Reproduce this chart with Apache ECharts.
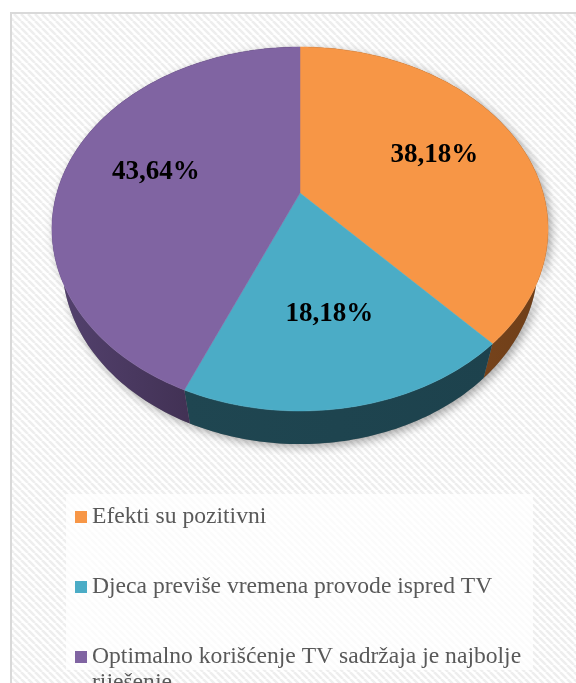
<!DOCTYPE html>
<html><head><meta charset="utf-8">
<script src="https://cdn.jsdelivr.net/npm/echarts@6/dist/echarts.min.js"></script>
<style>html,body{margin:0;padding:0;background:#fff;overflow:hidden}#c{width:576px;height:683px}</style>
</head><body><div id="c"></div>
<script>
// ---- data ----
const categories = ['Efekti su pozitivni', 'Djeca previše vremena provode ispred TV', 'Optimalno korišćenje TV sadržaja je najbolje riješenje'];
const values = [38.18, 18.18, 43.64];
const labelTexts = ['38,18%', '18,18%', '43,64%'];

// ---- style ----
const topColors = ['#f79646', '#4bacc6', '#8064a2'];
const sideColors = [['#8a5024', '#6e3e18'], ['#1f4651', '#1d424d'], ['#54426f', '#33243f']];
const LEGEND_FONT = '"Liberation Serif", serif';
const LEGEND_SIZE = 23.6;
const LEGEND_WRAP = 445;

// projection of a tilted disc (perspective)
const CX = 300, CY = 193, K = 871.7, YS = 1.02, SINA = 0.705, COSA = 0.709, DIST = 3.585, THICK = 0.21;
function proj(theta, t, d) {
  const r = theta * Math.PI / 180;
  const x = t * Math.sin(r), z = -t * Math.cos(r);
  const w = DIST - z * COSA + d * SINA;
  return [CX + K * x / w, CY + YS * K * (z * SINA + d * COSA) / w];
}
const total = values.reduce((a, b) => a + b, 0);
function startAngle(i) { let s = 0; for (let j = 0; j < i; j++) s += values[j]; return 360 * s / total; }

function renderSlice(params, api) {
  const i = params.seriesIndex;
  const v = api.value(0);
  const a0 = startAngle(i), a1 = a0 + 360 * v / total;
  const n = Math.max(2, Math.ceil(a1 - a0));
  const topArc = [], botArc = [];
  for (let k = 0; k <= n; k++) {
    const a = a0 + (a1 - a0) * k / n;
    topArc.push(proj(a, 1, 0));
    botArc.push(proj(a, 1, THICK));
  }
  const wallPts = topArc.concat(botArc.slice().reverse());
  const xs = wallPts.map(p => p[0]);
  const grad = {type: 'linear', x: Math.min(...xs), y: 0, x2: Math.max(...xs), y2: 0, global: true,
    colorStops: [{offset: 0, color: sideColors[i][0]}, {offset: 1, color: sideColors[i][1]}]};
  const c = proj(0, 0, 0);
  const mid = (a0 + a1) / 2;
  const lp = proj(mid, 0.62, 0);
  return {
    type: 'group',
    children: [
      {type: 'polygon', z2: -1, shape: {points: wallPts},
        style: {fill: '#888', shadowBlur: 10, shadowColor: 'rgba(0,0,0,0.35)', shadowOffsetX: 3, shadowOffsetY: 3}},
      {type: 'polygon', z2: 0, shape: {points: wallPts}, style: {fill: grad}},
      {type: 'polygon', z2: 10, shape: {points: [c].concat(topArc)}, style: {fill: topColors[i], stroke: topColors[i], lineWidth: 0.5}},
      {type: 'text', z2: 20, x: lp[0], y: lp[1],
        style: {text: labelTexts[i], fill: '#000', fontFamily: '"Liberation Serif", serif', fontWeight: 'bold', fontSize: 27, align: 'center', verticalAlign: 'middle'}}
    ]
  };
}

function stripePattern() {
  const s = 7;
  const cv = document.createElement('canvas'); cv.width = s; cv.height = s;
  const g = cv.getContext('2d');
  g.fillStyle = '#ffffff'; g.fillRect(0, 0, s, s);
  g.strokeStyle = '#eeeeee'; g.lineWidth = 2.6;
  for (const o of [-s, 0, s]) { g.beginPath(); g.moveTo(o, 0); g.lineTo(o + s, s); g.stroke(); }
  return cv;
}

// word-wrap legend names; keep the marker level with the first text line
const measureCtx = document.createElement('canvas').getContext('2d');
measureCtx.font = LEGEND_SIZE + 'px ' + LEGEND_FONT;
function legendFormatter(name) {
  const words = name.split(' ');
  const lines = [];
  let cur = '';
  for (const w of words) {
    const test = cur ? cur + ' ' + w : w;
    if (cur && measureCtx.measureText(test).width > LEGEND_WRAP) { lines.push(cur); cur = w; }
    else cur = test;
  }
  lines.push(cur);
  const above = lines.length - 1 + 1, below = 1;
  const padA = Array(Math.max(1, lines.length - 1)).fill('\u00a0');
  const padB = lines.length === 1 ? ['\u00a0'] : [];
  return padA.concat(lines, padB).join('\n');
}

const chart = echarts.init(document.getElementById('c'), null, {renderer: 'canvas'});
chart.setOption({
  backgroundColor: '#ffffff',
  animation: false,
  graphic: [{
    type: 'rect', z: -10, silent: true,
    shape: {x: 11, y: 13, width: 620, height: 720},
    style: {fill: {image: stripePattern(), repeat: 'repeat'}, stroke: '#d9d9d9', lineWidth: 2}
  }, {
    type: 'rect', z: -9, silent: true,
    shape: {x: 66, y: 494, width: 467, height: 176},
    style: {fill: 'rgba(255,255,255,0.78)'}
  }],
  legend: {
    orient: 'vertical', left: 75, top: 478, height: 600, width: 500,
    padding: 0, itemGap: -8, itemWidth: 12, itemHeight: 12, icon: 'rect',
    formatter: legendFormatter,
    textStyle: {fontFamily: LEGEND_FONT, fontSize: LEGEND_SIZE, color: '#595959', lineHeight: 26},
    data: categories
  },
  series: categories.map((name, i) => ({
    type: 'custom', name: name, coordinateSystem: 'none',
    itemStyle: {color: topColors[i]},
    renderItem: renderSlice,
    data: [[values[i]]]
  }))
});
</script></body></html>
